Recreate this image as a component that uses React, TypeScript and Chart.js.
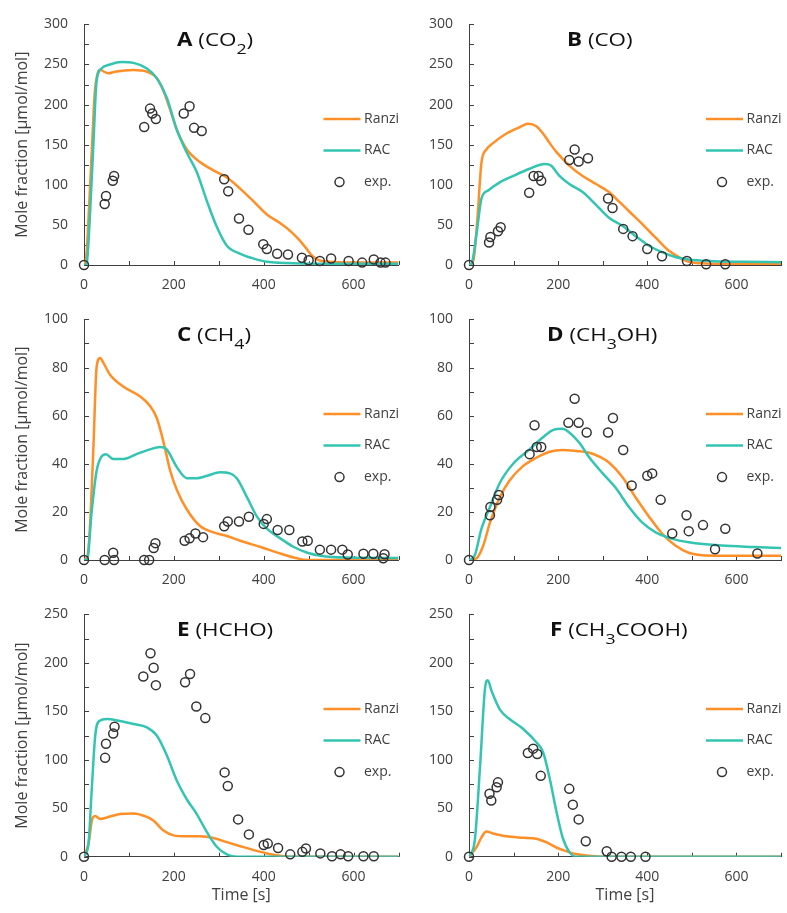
import React, { useEffect, useRef } from 'react';
import { Chart, registerables } from 'chart.js';

Chart.register(...registerables);

// ---------- data ----------
// Panel A (CO2)
const A_exp_t = [0, 46, 49, 64, 67, 134, 147, 152, 160, 222, 235, 245, 262, 312, 321, 345, 366, 399, 407, 430, 454, 485, 500, 525, 550, 589, 619, 645, 660, 671];
const A_exp_y = [0, 76, 86, 105, 111, 172, 195, 189, 182, 189, 198, 171, 167, 107, 92, 58, 44, 26, 20, 14, 13, 9, 6, 5, 8, 5, 3, 7, 3, 3];
const A_ranzi_t = [0, 5, 12, 18, 24, 30, 36, 54, 69, 110, 140, 162, 177, 192, 207, 229, 259, 288, 318, 348, 378, 407, 437, 460, 478, 493, 507, 522, 545, 600, 700];
const A_ranzi_y = [0, 10, 80, 150, 215, 238, 243, 239, 241, 243, 241, 233, 217, 193, 168, 144, 128, 118, 109, 95, 79, 63, 52, 42, 32, 22, 12, 6, 4, 3, 3];
const A_rac_t = [0, 6, 13, 21, 28, 39, 58, 84, 110, 140, 162, 184, 207, 229, 251, 274, 296, 318, 348, 378, 407, 482, 600, 700];
const A_rac_y = [0, 2, 59, 152, 229, 245, 250, 253, 252, 245, 233, 209, 168, 140, 116, 79, 47, 24, 14, 8, 4, 2, 1.5, 1.5];

// Panel B (CO)
const B_exp_t = [0, 45, 48, 65, 71, 135, 145, 156, 162, 225, 237, 246, 267, 312, 322, 346, 367, 400, 433, 489, 532, 575];
const B_exp_y = [0, 28, 35, 42, 47, 90, 111, 111, 105, 131, 144, 129, 133, 83, 71, 45, 36, 20, 11, 5, 1, 1];
const B_ranzi_t = [0, 10, 19, 28, 39, 54, 84, 114, 132, 151, 166, 181, 196, 225, 255, 285, 314, 337, 359, 389, 419, 448, 467, 493, 530, 600, 700];
const B_ranzi_y = [0, 6, 59, 128, 144, 152, 164, 172, 176, 173, 164, 152, 141, 124, 111, 101, 91, 79, 67, 51, 34, 18, 11, 4, 2, 1.5, 1.5];
const B_rac_t = [0, 6, 17, 28, 43, 69, 99, 136, 170, 184, 203, 225, 255, 285, 314, 344, 374, 404, 433, 463, 493, 538, 612, 700];
const B_rac_y = [0, 2, 39, 83, 93, 103, 111, 120, 126, 124, 111, 101, 91, 75, 59, 49, 36, 24, 16, 10, 7, 5, 4, 3.5];

// Panel C (CH4)
const C_exp_t = [0, 46, 65, 67, 134, 145, 155, 159, 224, 235, 248, 265, 312, 320, 345, 367, 400, 407, 431, 457, 486, 498, 525, 550, 575, 587, 622, 644, 666, 669];
const C_exp_y = [0, 0, 3, 0, 0, 0, 5, 7, 8, 9, 11, 9.5, 14, 16, 16, 18, 15, 17, 12.5, 12.5, 7.7, 8, 4.3, 4.3, 4.3, 2.3, 2.6, 2.6, 0.7, 2.4];
const C_ranzi_t = [0, 8, 13, 21, 28, 36, 43, 58, 88, 125, 147, 162, 177, 192, 207, 229, 259, 288, 318, 348, 393, 437, 474, 497, 700];
const C_ranzi_y = [0, 2, 13, 47, 80, 84, 82, 77, 72, 68, 64, 59, 49, 37, 29, 21, 14, 11.5, 10, 8, 5.4, 2.7, 0.7, 0, 0];
const C_rac_t = [0, 7, 17, 28, 39, 49, 65, 88, 117, 147, 169, 184, 207, 229, 251, 274, 303, 325, 340, 363, 385, 407, 437, 467, 497, 526, 586, 700];
const C_rac_y = [0, 0, 20, 37, 43, 44, 42, 42, 44, 46, 47, 46, 38.5, 34, 34, 35, 36.5, 36, 34, 26, 18, 13, 9, 5.4, 3, 1.8, 1, 0.8];

// Panel D (CH3OH)
const D_exp_t = [0, 47, 48, 63, 67, 136, 147, 152, 162, 223, 237, 246, 264, 312, 323, 346, 365, 400, 411, 430, 456, 488, 493, 525, 552, 575, 647];
const D_exp_y = [0, 18.6, 22, 25, 27, 44, 56, 47, 47, 57, 67, 57, 53, 53, 59, 45.7, 31, 35, 36, 25, 11, 18.6, 12, 14.5, 4.5, 13, 2.7];
const D_ranzi_t = [0, 17, 32, 47, 69, 91, 121, 151, 181, 210, 240, 270, 292, 314, 344, 374, 404, 433, 463, 493, 523, 567, 700];
const D_ranzi_y = [0, 0.7, 6, 15.5, 26, 33, 39, 42.5, 45, 45.7, 45.3, 44.6, 43, 40.5, 34.5, 26, 18, 11, 6, 3, 2, 1.8, 1.8];
const D_rac_t = [0, 13, 28, 47, 69, 99, 136, 166, 188, 210, 225, 248, 270, 300, 329, 359, 389, 419, 456, 493, 567, 642, 700];
const D_rac_y = [0, 2, 13, 22, 32, 40, 46, 51, 54, 54.5, 53, 48.6, 42.6, 36, 30, 22, 15.5, 11.5, 8.8, 7.4, 6, 5.4, 5];

// Panel E (HCHO)
const E_exp_t = [0, 47, 49, 65, 68, 132, 148, 155, 160, 225, 236, 250, 270, 313, 320, 343, 367, 400, 409, 432, 459, 486, 494, 526, 552, 571, 588, 622, 645];
const E_exp_y = [0, 102, 116.5, 127, 134, 186, 210, 195, 177, 180, 188.5, 155, 143, 87, 73, 38.5, 23, 12, 13.5, 9, 2.4, 5, 8.4, 3.4, 0.5, 2.4, 0.5, 0.5, 0.5];
const E_ranzi_t = [0, 10, 19, 25, 36, 51, 80, 110, 140, 155, 177, 199, 229, 259, 288, 318, 348, 378, 407, 437, 459, 700];
const E_ranzi_y = [0, 13.5, 40, 42, 39, 40.5, 44, 44.6, 41, 37, 27, 22, 21, 21, 19.3, 15, 10.8, 6.8, 3.4, 1, 0, 0];
const E_rac_t = [0, 10, 17, 25, 34, 51, 80, 110, 140, 162, 184, 207, 229, 251, 274, 296, 318, 340, 700];
const E_rac_y = [0, 13.5, 67.5, 125, 140, 142, 140, 137, 133.5, 125, 105, 78, 59, 44, 25, 10, 2.4, 0, 0];

// Panel F (CH3COOH)
const F_exp_t = [0, 46, 50, 62, 65, 132, 144, 153, 161, 225, 233, 246, 262, 309, 320, 342, 363, 396];
const F_exp_y = [0, 65, 58, 71.6, 76.7, 107, 111.5, 106, 83.4, 70, 53.7, 38.5, 16, 5.7, 0, 0, 0, 0];
const F_ranzi_t = [0, 17, 28, 39, 54, 84, 121, 151, 173, 196, 218, 240, 270, 300, 700];
const F_ranzi_y = [0, 10, 20, 26, 24, 21, 19.6, 18.6, 15, 9.5, 5.7, 2.7, 1, 0, 0];
const F_rac_t = [0, 13, 25, 36, 42, 51, 69, 91, 121, 151, 166, 181, 196, 210, 225, 240, 700];
const F_rac_y = [0, 17, 94.6, 174, 182, 170.6, 152, 142, 132, 118, 108, 81, 47, 20, 5, 0, 0];

// ---------- axes ----------
const X_TICKS = [0, 200, 400, 600];
const X_MARKS = [0, 100, 200, 300, 400, 500, 600, 700];
const Y_TICKS_300 = [0, 50, 100, 150, 200, 250, 300];
const Y_MARKS_300 = [0, 25, 50, 75, 100, 125, 150, 175, 200, 225, 250, 275, 300];
const Y_TICKS_100 = [0, 20, 40, 60, 80, 100];
const Y_MARKS_100 = [0, 10, 20, 30, 40, 50, 60, 70, 80, 90, 100];
const Y_TICKS_250 = [0, 50, 100, 150, 200, 250];
const Y_MARKS_250 = [0, 25, 50, 75, 100, 125, 150, 175, 200, 225, 250];

const LEGEND_LABELS = ['Ranzi', 'RAC', 'exp.'];
const Y_TITLE = 'Mole fraction [µmol/mol]';
const X_TITLE = 'Time [s]';

// ---------- style ----------
const FONT = '"Open Sans", "Noto Sans", sans-serif';
const ORANGE = '#FF8F26';
const TEAL = '#33C4B2';
const MARKER = '#333333';
const AXIS = '#404040';
const TEXT = '#404040';

type Seg = { t: string; b?: boolean; sub?: boolean };

const COLS = [
  { left: 0, width: 405, areaLeft: 84, areaRight: 398.5 },
  { left: 395, width: 392, areaLeft: 74, areaRight: 388 },
];
const ROWS = [
  { top: 0, height: 295, areaTop: 18.3, areaBottom: 265 },
  { top: 295, height: 295, areaTop: 18.3, areaBottom: 265 },
  { top: 590, height: 323, areaTop: 20, areaBottom: 266.7 },
];

interface PanelCfg {
  key: string;
  col: number;
  row: number;
  title: Seg[];
  titleX: number;
  yMax: number;
  yTicks: number[];
  yMarks: number[];
  expT: number[];
  expY: number[];
  ranziT: number[];
  ranziY: number[];
  racT: number[];
  racY: number[];
}

const PANELS: PanelCfg[] = [
  { key: 'A', col: 0, row: 0, title: [{ t: 'A', b: true }, { t: ' (CO' }, { t: '2', sub: true }, { t: ')' }], titleX: 177, yMax: 300, yTicks: Y_TICKS_300, yMarks: Y_MARKS_300, expT: A_exp_t, expY: A_exp_y, ranziT: A_ranzi_t, ranziY: A_ranzi_y, racT: A_rac_t, racY: A_rac_y },
  { key: 'B', col: 1, row: 0, title: [{ t: 'B', b: true }, { t: ' (CO)' }], titleX: 172, yMax: 300, yTicks: Y_TICKS_300, yMarks: Y_MARKS_300, expT: B_exp_t, expY: B_exp_y, ranziT: B_ranzi_t, ranziY: B_ranzi_y, racT: B_rac_t, racY: B_rac_y },
  { key: 'C', col: 0, row: 1, title: [{ t: 'C', b: true }, { t: ' (CH' }, { t: '4', sub: true }, { t: ')' }], titleX: 177, yMax: 100, yTicks: Y_TICKS_100, yMarks: Y_MARKS_100, expT: C_exp_t, expY: C_exp_y, ranziT: C_ranzi_t, ranziY: C_ranzi_y, racT: C_rac_t, racY: C_rac_y },
  { key: 'D', col: 1, row: 1, title: [{ t: 'D', b: true }, { t: ' (CH' }, { t: '3', sub: true }, { t: 'OH)' }], titleX: 152, yMax: 100, yTicks: Y_TICKS_100, yMarks: Y_MARKS_100, expT: D_exp_t, expY: D_exp_y, ranziT: D_ranzi_t, ranziY: D_ranzi_y, racT: D_rac_t, racY: D_rac_y },
  { key: 'E', col: 0, row: 2, title: [{ t: 'E', b: true }, { t: ' (HCHO)' }], titleX: 177, yMax: 250, yTicks: Y_TICKS_250, yMarks: Y_MARKS_250, expT: E_exp_t, expY: E_exp_y, ranziT: E_ranzi_t, ranziY: E_ranzi_y, racT: E_rac_t, racY: E_rac_y },
  { key: 'F', col: 1, row: 2, title: [{ t: 'F', b: true }, { t: ' (CH' }, { t: '3', sub: true }, { t: 'COOH)' }], titleX: 155, yMax: 250, yTicks: Y_TICKS_250, yMarks: Y_MARKS_250, expT: F_exp_t, expY: F_exp_y, ranziT: F_ranzi_t, ranziY: F_ranzi_y, racT: F_rac_t, racY: F_rac_y },
];

const pts = (t: number[], y: number[]) => t.map((x, i) => ({ x, y: y[i] }));

function makeConfig(p: PanelCfg): any {
  const col = COLS[p.col];
  const row = ROWS[p.row];
  const showYTitle = p.col === 0;
  const showXTitle = p.row === 2;

  const deco = {
    id: 'deco',
    beforeDatasetsDraw(chart: any) {
      const { ctx, chartArea } = chart;
      const xs = chart.scales.x;
      const ys = chart.scales.y;
      ctx.save();
      ctx.strokeStyle = AXIS;
      ctx.lineWidth = 1;
      ctx.beginPath();
      X_MARKS.forEach((v) => {
        const px = Math.round(xs.getPixelForValue(v)) + 0.5;
        ctx.moveTo(px, chartArea.bottom);
        ctx.lineTo(px, chartArea.bottom - 4);
      });
      p.yMarks.forEach((v) => {
        const py = Math.round(ys.getPixelForValue(v)) + 0.5;
        ctx.moveTo(chartArea.left, py);
        ctx.lineTo(chartArea.left + 5, py);
      });
      ctx.stroke();
      ctx.restore();
    },
    afterDraw(chart: any) {
      const { ctx, chartArea } = chart;
      ctx.save();
      // title
      ctx.fillStyle = '#111';
      ctx.textBaseline = 'alphabetic';
      ctx.textAlign = 'left';
      ctx.translate(p.titleX, 46);
      ctx.scale(1.18, 1);
      let cx = 0;
      p.title.forEach((s) => {
        ctx.font = s.b ? `bold 19px ${FONT}` : s.sub ? `15px ${FONT}` : `19px ${FONT}`;
        ctx.fillText(s.t, cx, s.sub ? 8 : 0);
        cx += ctx.measureText(s.t).width;
      });
      ctx.restore();

      // legend
      ctx.save();
      const r = chartArea.right;
      const t = chartArea.top;
      const ly = [t + 94.5, t + 126, t + 157.7];
      ctx.lineWidth = 2.5;
      ctx.strokeStyle = ORANGE;
      ctx.beginPath();
      ctx.moveTo(r - 75, ly[0]);
      ctx.lineTo(r - 38, ly[0]);
      ctx.stroke();
      ctx.strokeStyle = TEAL;
      ctx.beginPath();
      ctx.moveTo(r - 75, ly[1]);
      ctx.lineTo(r - 38, ly[1]);
      ctx.stroke();
      ctx.strokeStyle = MARKER;
      ctx.lineWidth = 1.5;
      ctx.beginPath();
      ctx.arc(r - 59, ly[2], 4.5, 0, Math.PI * 2);
      ctx.stroke();
      ctx.fillStyle = TEXT;
      ctx.font = `14px ${FONT}`;
      ctx.textBaseline = 'middle';
      ctx.textAlign = 'left';
      LEGEND_LABELS.forEach((lab, i) => ctx.fillText(lab, r - 34.5, ly[i]));

      // axis titles
      ctx.font = `16px ${FONT}`;
      if (showYTitle) {
        ctx.save();
        ctx.translate(22.5, (chartArea.top + chartArea.bottom) / 2);
        ctx.rotate(-Math.PI / 2);
        ctx.textAlign = 'center';
        ctx.textBaseline = 'middle';
        ctx.fillText(Y_TITLE, 0, 0);
        ctx.restore();
      }
      if (showXTitle) {
        ctx.textAlign = 'center';
        ctx.textBaseline = 'middle';
        ctx.fillText(X_TITLE, (chartArea.left + chartArea.right) / 2, 305);
      }
      ctx.restore();
    },
  };

  return {
    type: 'scatter',
    data: {
      datasets: [
        {
          label: 'exp.',
          data: pts(p.expT, p.expY),
          showLine: false,
          pointStyle: 'circle',
          pointRadius: 4.5,
          pointBorderWidth: 1.5,
          pointBorderColor: MARKER,
          pointBackgroundColor: 'rgba(0,0,0,0)',
          clip: false,
        },
        {
          label: 'RAC',
          data: pts(p.racT, p.racY),
          showLine: true,
          borderColor: TEAL,
          borderWidth: 2.5,
          pointRadius: 0,
          cubicInterpolationMode: 'monotone',
          fill: false,
        },
        {
          label: 'Ranzi',
          data: pts(p.ranziT, p.ranziY),
          showLine: true,
          borderColor: ORANGE,
          borderWidth: 2.5,
          pointRadius: 0,
          cubicInterpolationMode: 'monotone',
          fill: false,
        },
      ],
    },
    options: {
      responsive: false,
      animation: false,
      devicePixelRatio: 1,
      events: [],
      layout: { padding: { left: 0, right: col.width - col.areaRight, top: row.areaTop, bottom: 0 } },
      plugins: { legend: { display: false }, tooltip: { enabled: false }, title: { display: false } },
      scales: {
        x: {
          type: 'linear',
          min: 0,
          max: 700,
          afterBuildTicks: (s: any) => {
            s.ticks = X_TICKS.map((v) => ({ value: v }));
          },
          afterFit: (s: any) => {
            s.height = row.height - row.areaBottom;
          },
          grid: { display: false, drawTicks: false },
          border: { display: true, color: AXIS, width: 1 },
          ticks: { font: { family: FONT, size: 14 }, color: TEXT, padding: 12, maxRotation: 0, autoSkip: false },
        },
        y: {
          type: 'linear',
          min: 0,
          max: p.yMax,
          afterBuildTicks: (s: any) => {
            s.ticks = p.yTicks.map((v) => ({ value: v }));
          },
          afterFit: (s: any) => {
            s.width = col.areaLeft;
          },
          grid: { display: false, drawTicks: false },
          border: { display: true, color: AXIS, width: 1 },
          ticks: { font: { family: FONT, size: 14 }, color: TEXT, padding: 16, autoSkip: false },
        },
      },
    },
    plugins: [deco],
  };
}

function Panel({ p }: { p: PanelCfg }) {
  const ref = useRef<HTMLCanvasElement>(null);
  const col = COLS[p.col];
  const row = ROWS[p.row];
  useEffect(() => {
    if (!ref.current) return;
    const chart = new Chart(ref.current, makeConfig(p));
    return () => chart.destroy();
  }, []);
  return (
    <canvas
      ref={ref}
      width={col.width}
      height={row.height}
      style={{ position: 'absolute', left: col.left, top: row.top, width: col.width, height: row.height }}
    />
  );
}

export default function App() {
  return (
    <div style={{ position: 'absolute', left: 0, top: 0, width: 787, height: 913, background: '#fff' }}>
      {PANELS.map((p) => (
        <Panel key={p.key} p={p} />
      ))}
    </div>
  );
}
